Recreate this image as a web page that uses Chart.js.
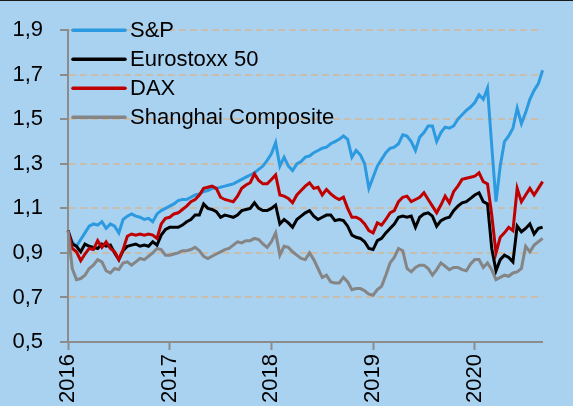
<!DOCTYPE html>
<html>
<head>
<meta charset="utf-8">
<script src="https://cdn.jsdelivr.net/npm/chart.js@4.4.1/dist/chart.umd.min.js"></script>
<style>
  html, body { margin: 0; padding: 0; background: #a9d1f0; }
  #wrap { width: 573px; height: 406px; position: relative; }
  #topline { position: absolute; left: 0; top: 0; width: 573px; height: 1px; background: #1a1a1a; }
</style>
</head>
<body>
<div id="wrap"><canvas id="chart" width="573" height="406"></canvas><div id="topline"></div></div>
<script>
// semi-monthly observations, Jan 2016 .. Aug 2020 (index = 1/24 year)
const years = [2016, 2017, 2018, 2019, 2020];
const dates = [];
years.forEach(y => {
    for (let m = 1; m <= 12; m++) {
        const mm = String(m).padStart(2, '0');
        dates.push(`${y}-${mm}-01`, `${y}-${mm}-16`);
    }
});
dates.length = 113;

const yTicks = [0.5, 0.7, 0.9, 1.1, 1.3, 1.5, 1.7, 1.9];

const seriesNames = ['S&P', 'Eurostoxx 50', 'DAX', 'Shanghai Composite'];

const sp500 = [
    1.00, 0.95, 0.93, 0.96, 0.99, 1.02, 1.03, 1.025, 1.04, 1.01, 1.03, 1.02,
    0.99, 1.05, 1.065, 1.075, 1.065, 1.06, 1.05, 1.055, 1.04, 1.075, 1.09, 1.10,
    1.11, 1.12, 1.135, 1.14, 1.14, 1.15, 1.16, 1.165, 1.175, 1.18, 1.19, 1.19,
    1.195, 1.20, 1.205, 1.21, 1.22, 1.23, 1.24, 1.25, 1.26, 1.275, 1.29, 1.315,
    1.345, 1.395, 1.29, 1.33, 1.29, 1.27, 1.30, 1.31, 1.33, 1.335, 1.35, 1.36,
    1.37, 1.375, 1.39, 1.40, 1.41, 1.425, 1.41, 1.33, 1.36, 1.34, 1.30, 1.19,
    1.24, 1.29, 1.32, 1.35, 1.37, 1.375, 1.39, 1.43, 1.425, 1.40, 1.36, 1.42,
    1.44, 1.47, 1.47, 1.40, 1.44, 1.465, 1.46, 1.47, 1.50, 1.52, 1.54, 1.555,
    1.575, 1.61, 1.59, 1.64, 1.38, 1.13, 1.29, 1.40, 1.425, 1.46, 1.55, 1.48,
    1.53, 1.59, 1.63, 1.66, 1.72
];

const eurostoxx = [
    1.00, 0.94, 0.93, 0.905, 0.94, 0.93, 0.925, 0.92, 0.94, 0.93, 0.935, 0.90,
    0.87, 0.91, 0.93, 0.935, 0.94, 0.93, 0.935, 0.93, 0.95, 0.935, 0.98, 1.005,
    1.015, 1.015, 1.015, 1.025, 1.04, 1.05, 1.07, 1.07, 1.12, 1.10, 1.095, 1.085,
    1.06, 1.07, 1.065, 1.06, 1.07, 1.09, 1.095, 1.10, 1.125, 1.10, 1.09, 1.09,
    1.10, 1.115, 1.03, 1.05, 1.035, 1.015, 1.05, 1.065, 1.08, 1.09, 1.065, 1.05,
    1.06, 1.07, 1.07, 1.045, 1.05, 1.045, 1.02, 0.98, 0.97, 0.965, 0.95, 0.92,
    0.915, 0.955, 0.965, 0.99, 1.01, 1.03, 1.06, 1.065, 1.06, 1.065, 1.015, 1.06,
    1.075, 1.08, 1.065, 1.02, 1.045, 1.055, 1.06, 1.09, 1.11, 1.125, 1.13, 1.145,
    1.16, 1.17, 1.13, 1.12, 0.92, 0.82, 0.87, 0.89, 0.88, 0.86, 1.02, 0.995,
    1.01, 1.03, 0.985, 1.01, 1.015
];

const dax = [
    1.00, 0.92, 0.905, 0.865, 0.895, 0.92, 0.915, 0.955, 0.925, 0.95, 0.92, 0.905,
    0.87, 0.915, 0.975, 0.985, 0.98, 0.985, 0.98, 0.985, 0.98, 0.965, 1.03, 1.055,
    1.06, 1.075, 1.08, 1.095, 1.11, 1.13, 1.14, 1.16, 1.19, 1.195, 1.20, 1.19,
    1.15, 1.14, 1.135, 1.13, 1.155, 1.19, 1.205, 1.215, 1.255, 1.225, 1.21, 1.21,
    1.23, 1.25, 1.16, 1.155, 1.145, 1.125, 1.16, 1.18, 1.20, 1.215, 1.19, 1.195,
    1.16, 1.185, 1.165, 1.15, 1.14, 1.15, 1.10, 1.06, 1.06, 1.05, 1.03, 1.00,
    0.99, 1.035, 1.025, 1.05, 1.08, 1.09, 1.13, 1.15, 1.155, 1.13, 1.14, 1.15,
    1.17, 1.14, 1.11, 1.08, 1.115, 1.155, 1.125, 1.175, 1.20, 1.23, 1.235, 1.24,
    1.245, 1.26, 1.22, 1.21, 1.07, 0.90, 0.97, 0.99, 1.015, 1.00, 1.19, 1.13,
    1.16, 1.19, 1.16, 1.19, 1.22
];

const shanghai = [
    1.00, 0.83, 0.78, 0.785, 0.80, 0.83, 0.845, 0.87, 0.86, 0.82, 0.81, 0.83,
    0.825, 0.855, 0.86, 0.845, 0.86, 0.875, 0.87, 0.885, 0.90, 0.92, 0.915, 0.89,
    0.89, 0.895, 0.90, 0.91, 0.91, 0.915, 0.925, 0.91, 0.885, 0.875, 0.885, 0.895,
    0.905, 0.915, 0.92, 0.935, 0.95, 0.945, 0.955, 0.955, 0.965, 0.96, 0.94, 0.925,
    0.95, 0.99, 0.89, 0.93, 0.925, 0.905, 0.89, 0.875, 0.87, 0.90, 0.87, 0.83,
    0.79, 0.80, 0.77, 0.765, 0.765, 0.79, 0.77, 0.735, 0.74, 0.74, 0.73, 0.715,
    0.71, 0.735, 0.75, 0.80, 0.855, 0.88, 0.92, 0.91, 0.83, 0.815, 0.835, 0.845,
    0.845, 0.83, 0.80, 0.825, 0.855, 0.84, 0.825, 0.835, 0.835, 0.825, 0.82, 0.85,
    0.87, 0.87, 0.835, 0.855, 0.825, 0.78, 0.79, 0.80, 0.795, 0.81, 0.815, 0.83,
    0.93, 0.905, 0.935, 0.95, 0.965
];

const colors = ['#2b9ae0', '#000000', '#c00000', '#858585'];
const seriesValues = [sp500, eurostoxx, dax, shanghai];

const FONT = '"Liberation Sans", Arial, sans-serif';

// legend drawn inside the plot area, stacked vertically at top-left
const insideLegend = {
    id: 'insideLegend',
    afterDraw(chart) {
        const { ctx, chartArea } = chart;
        ctx.save();
        ctx.font = `22px ${FONT}`;
        ctx.textBaseline = 'middle';
        ctx.fillStyle = '#000';
        chart.data.datasets.forEach((ds, i) => {
            const y = chartArea.top + i * 29;
            ctx.strokeStyle = ds.borderColor;
            ctx.lineWidth = 3.5;
            ctx.lineCap = 'round';
            ctx.beginPath();
            ctx.moveTo(chartArea.left + 5, y);
            ctx.lineTo(chartArea.left + 57, y);
            ctx.stroke();
            ctx.fillText(ds.label, chartArea.left + 62, y + 1);
        });
        ctx.restore();
    }
};

new Chart(document.getElementById('chart'), {
    type: 'line',
    data: {
        labels: dates,
        datasets: seriesNames.map((name, i) => ({
            label: name,
            data: seriesValues[i],
            borderColor: colors[i],
            borderWidth: 3,
            pointRadius: 0,
            tension: 0,
            order: seriesNames.length - i
        }))
    },
    options: {
        responsive: false,
        animation: false,
        layout: { padding: { top: 24, right: 5, left: 0, bottom: 0 } },
        plugins: {
            legend: { display: false },
            tooltip: { enabled: false }
        },
        scales: {
            x: {
                type: 'category',
                offset: false,
                afterFit: s => { s.height = 64; },
                grid: {
                    drawOnChartArea: false,
                    tickLength: 8,
                    tickWidth: 2,
                    tickColor: c => (dates[c.index] || '').endsWith('-01-01') ? '#8c8c8c' : 'transparent'
                },
                border: { color: '#8c8c8c', width: 2 },
                ticks: {
                    autoSkip: false,
                    minRotation: 90,
                    maxRotation: 90,
                    padding: 4,
                    color: '#000',
                    font: { family: FONT, size: 22 },
                    callback: (v, i) => dates[i].endsWith('-01-01') ? dates[i].slice(0, 4) : ''
                }
            },
            y: {
                min: yTicks[0],
                max: yTicks[yTicks.length - 1],
                afterFit: s => { s.width = 68; },
                afterBuildTicks: s => { s.ticks = yTicks.map(v => ({ value: v })); },
                grid: {
                    color: c => c.index === 0 ? 'transparent' : '#c9bdae',
                    lineWidth: 2,
                    tickLength: 8,
                    tickWidth: 2,
                    tickColor: '#8c8c8c',
                    tickBorderDash: []
                },
                border: { color: '#8c8c8c', width: 2, dash: [7, 4] },
                ticks: {
                    padding: 17,
                    color: '#000',
                    font: { family: FONT, size: 22 },
                    callback: v => v.toFixed(1).replace('.', ',')
                }
            }
        }
    },
    plugins: [insideLegend]
});
</script>
</body>
</html>
